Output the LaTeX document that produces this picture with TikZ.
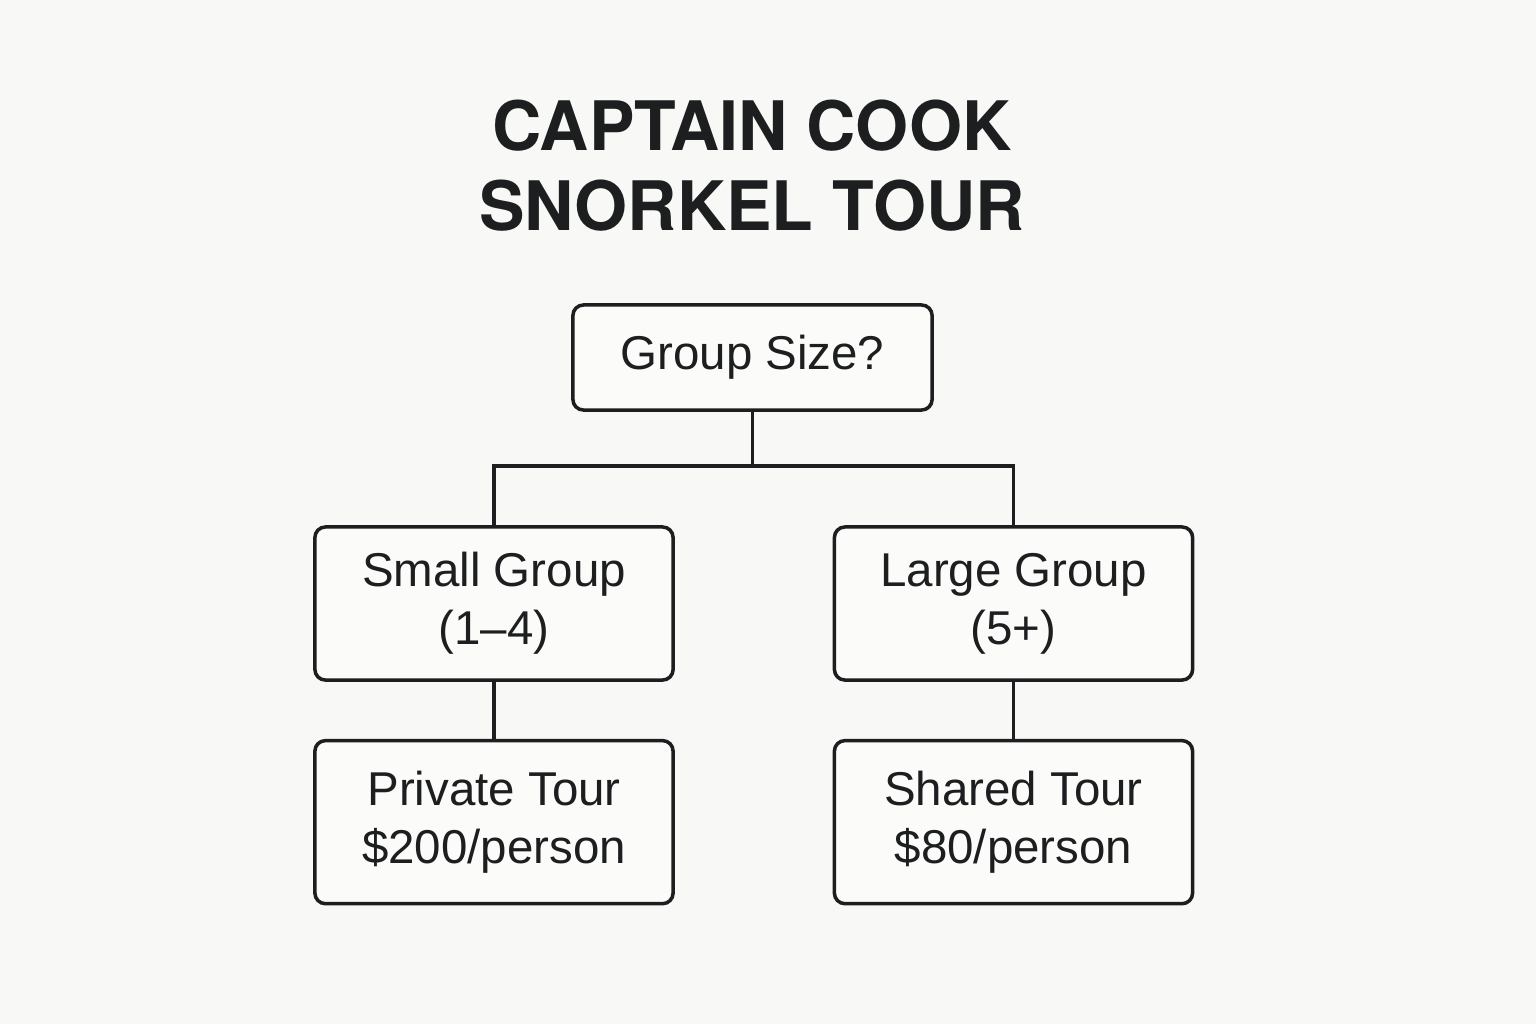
\documentclass[tikz,border=0pt]{standalone}
\usepackage{fontspec}
\setmainfont{Liberation Sans}
\newfontfamily\headfont{TeX Gyre Heros}
\usepackage{xcolor}
\usetikzlibrary{positioning}
\definecolor{ink}{HTML}{1C1E1F}
\definecolor{paper}{HTML}{F8F8F6}

\begin{document}
\begin{tikzpicture}[
  x=0.01cm, y=-0.01cm,
  box/.style={draw=ink, line width=1pt, rounded corners=3pt, minimum width=3.58cm, align=center,
    text=ink, font=\fontsize{13.5}{16.4}\selectfont, fill=white!40!paper},
  head/.style={anchor=base, text=ink, font=\headfont\bfseries\fontsize{19.4}{24}\selectfont},
  link/.style={draw=ink, line width=1pt}
]
\fill[paper] (0,0) rectangle (1536,1024);
\useasboundingbox (0,0) rectangle (1536,1024);

\node[head] (T1) at (752,150) {CAPTAIN COOK};
\node[head] (T2) at (752,230) {SNORKEL TOUR};

\node[box, minimum width=3.59cm, minimum height=1.05cm] (Q) at (752.5,357.5) {Group Size?};
\node[box, minimum height=1.53cm] (S) at (494,603.5) {Small Group\\(1--4)};
\node[box, minimum height=1.53cm] (L) at (1013.5,603.5) {Large Group\\(5+)};
\node[box, minimum height=1.63cm, below=0.57cm of S] (P) {Private Tour\\\$200/person};
\node[box, minimum height=1.63cm, below=0.57cm of L] (H) {Shared Tour\\\$80/person};

\coordinate (fork) at (752.5,466);
\draw[link] (Q.south) -- (fork);
\draw[link] (S.north) |- (fork) -| (L.north);
\draw[link] (S) -- (P);
\draw[link] (L) -- (H);
\end{tikzpicture}
\end{document}
